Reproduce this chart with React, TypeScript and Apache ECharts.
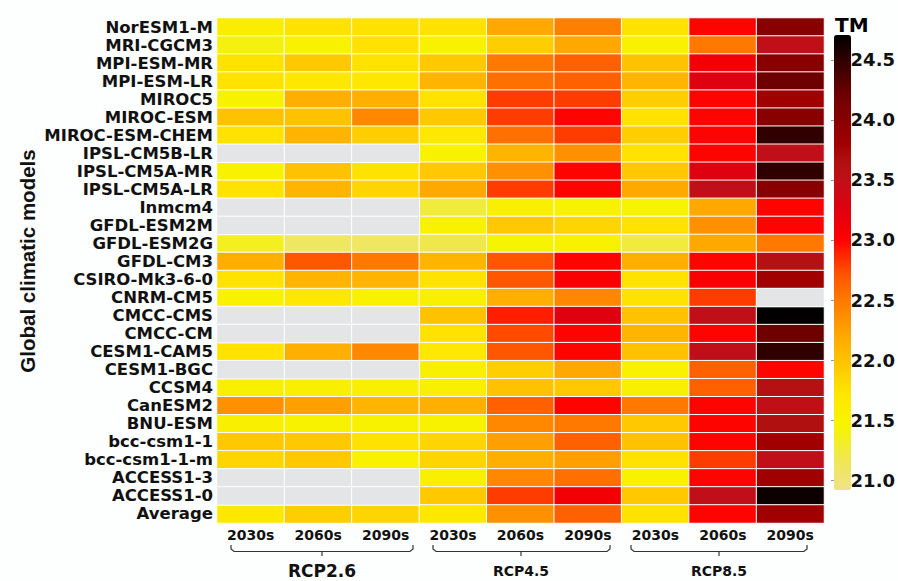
import React, { useEffect, useRef } from "react";
import * as echarts from "echarts";

const models = [
  "NorESM1-M", "MRI-CGCM3", "MPI-ESM-MR", "MPI-ESM-LR", "MIROC5", "MIROC-ESM",
  "MIROC-ESM-CHEM", "IPSL-CM5B-LR", "IPSL-CM5A-MR", "IPSL-CM5A-LR", "Inmcm4",
  "GFDL-ESM2M", "GFDL-ESM2G", "GFDL-CM3", "CSIRO-Mk3-6-0", "CNRM-CM5", "CMCC-CMS",
  "CMCC-CM", "CESM1-CAM5", "CESM1-BGC", "CCSM4", "CanESM2", "BNU-ESM", "bcc-csm1-1",
  "bcc-csm1-1-m", "ACCESS1-3", "ACCESS1-0", "Average",
];

const scenarios = ["RCP2.6", "RCP4.5", "RCP8.5"];
const periods = ["2030s", "2060s", "2090s"];

// values per column, in model order (null = no data)
const rcp26_2030s = [21.6, 21.4, 21.75, 21.75, 21.5, 22.0, 21.75, null, 21.5, 21.75, null, null, 21.35, 22.15, 21.75, 21.5, null, null, 21.75, null, 21.55, 22.35, 21.55, 21.95, 21.85, null, null, 21.7];
const rcp26_2060s = [21.75, 21.5, 21.95, 21.7, 22.15, 22.0, 22.1, null, 22.0, 22.1, null, null, 21.1, 22.7, 22.1, 21.7, null, null, 22.15, null, 21.55, 22.25, 21.5, 21.95, 21.95, null, null, 21.9];
const rcp26_2090s = [21.75, 21.75, 21.75, 21.7, 22.15, 22.4, 21.9, null, 21.75, 21.85, null, null, 21.1, 22.5, 22.1, 21.5, null, null, 22.4, null, 21.55, 22.1, 21.5, 21.75, 21.5, null, null, 21.85];
const rcp45_2030s = [21.75, 21.5, 21.95, 22.1, 21.75, 21.95, 21.7, 21.5, 21.95, 22.2, 21.25, 21.5, 21.2, 22.1, 21.75, 21.55, 22.0, 21.75, 21.7, 21.55, 21.55, 22.15, 21.5, 21.85, 21.85, 21.55, 21.95, 21.7];
const rcp45_2060s = [22.2, 21.9, 22.5, 22.55, 22.8, 22.8, 22.55, 22.1, 22.35, 22.8, 21.55, 21.95, 21.45, 22.7, 22.7, 22.15, 22.9, 22.75, 22.7, 21.9, 22.0, 22.65, 22.4, 22.25, 22.15, 22.4, 22.8, 22.35];
const rcp45_2090s = [22.45, 22.2, 22.65, 22.65, 22.8, 23.0, 22.8, 22.35, 23.0, 23.0, 21.5, 21.85, 21.5, 23.0, 23.05, 22.4, 23.25, 23.0, 23.0, 22.2, 21.95, 23.0, 22.5, 22.65, 22.25, 22.55, 23.1, 22.65];
const rcp85_2030s = [21.75, 21.5, 22.0, 22.1, 21.9, 21.75, 21.9, 21.75, 21.95, 22.2, 21.45, 21.75, 21.25, 22.15, 21.75, 21.75, 22.0, 22.1, 22.0, 21.5, 21.55, 22.5, 21.95, 22.0, 21.75, 21.5, 21.95, 21.75];
const rcp85_2060s = [23.0, 22.5, 23.1, 23.25, 23.0, 23.0, 23.0, 23.0, 23.25, 23.5, 22.2, 22.35, 22.2, 23.0, 23.05, 22.8, 23.5, 23.0, 23.5, 22.65, 22.65, 23.0, 23.0, 23.0, 22.8, 23.0, 23.5, 23.0];
const rcp85_2090s = [24.0, 23.5, 24.0, 24.2, 23.8, 24.0, 24.5, 23.5, 24.5, 24.0, 23.0, 23.0, 22.5, 23.6, 23.8, null, 24.7, 24.2, 24.5, 23.0, 23.6, 23.5, 23.65, 23.8, 23.5, 23.8, 24.65, 23.8];

const columns = [
  rcp26_2030s, rcp26_2060s, rcp26_2090s,
  rcp45_2030s, rcp45_2060s, rcp45_2090s,
  rcp85_2030s, rcp85_2060s, rcp85_2090s,
];

const scaleMin = 20.917;
const scaleMax = 24.708;
const scaleTicks = [21.0, 21.5, 22.0, 22.5, 23.0, 23.5, 24.0, 24.5];

// colour ramp control points (value, colour)
const rampValues = [20.917, 21.2, 21.45, 21.7, 21.95, 22.2, 22.45, 22.7, 22.9, 23.0, 23.25, 23.5, 23.65, 23.8, 24.0, 24.2, 24.5, 24.708];
const rampColors = ["#eee28a", "#f0e84a", "#f6f400", "#ffe800", "#ffc800", "#ffa800", "#ff8000", "#ff5800", "#ff2000", "#ff0000", "#e00010", "#c01018", "#b01010", "#a00000", "#880000", "#700000", "#300000", "#000000"];

function hexToRgb(h: string) {
  const n = parseInt(h.slice(1), 16);
  return [(n >> 16) & 255, (n >> 8) & 255, n & 255];
}
function rampAt(v: number) {
  let i = 0;
  while (i < rampValues.length - 2 && v > rampValues[i + 1]) i++;
  const t = Math.max(0, Math.min(1, (v - rampValues[i]) / (rampValues[i + 1] - rampValues[i])));
  const a = hexToRgb(rampColors[i]);
  const b = hexToRgb(rampColors[i + 1]);
  const c = a.map((x, k) => Math.round(x + (b[k] - x) * t));
  return `rgb(${c[0]},${c[1]},${c[2]})`;
}

const FONT = "'DejaVu Sans', sans-serif";

export default function App() {
  const ref = useRef<HTMLDivElement>(null);

  useEffect(() => {
    if (!ref.current) return;
    const chart = echarts.init(ref.current, null, { renderer: "svg" });

    const xCats: string[] = [];
    scenarios.forEach((s) => periods.forEach((p) => xCats.push(s + "|" + p)));

    const data: any[] = [];
    const missing: any[] = [];
    columns.forEach((col, xi) => {
      col.forEach((v, yi) => {
        if (v === null) missing.push([xi, yi, 0]);
        else data.push([xi, yi, v]);
      });
    });

    const nStops = 80;
    const inRangeColors: string[] = [];
    for (let i = 0; i < nStops; i++) {
      inRangeColors.push(rampAt(scaleMin + ((scaleMax - scaleMin) * i) / (nStops - 1)));
    }

    const brackets = [
      { x0: 231, x1: 413, cx: 322, label: scenarios[0], size: 17 },
      { x0: 433, x1: 610, cx: 521, label: scenarios[1], size: 14 },
      { x0: 631, x1: 807, cx: 719, label: scenarios[2], size: 14 },
    ];
    const graphics: any[] = [];
    brackets.forEach((b) => {
      graphics.push({
        type: "polyline",
        silent: true,
        shape: {
          points: [
            [b.x0, 545], [b.x0, 549], [b.x0 + 3, 551.5], [b.x1 - 3, 551.5], [b.x1, 549], [b.x1, 545],
          ],
        },
        style: { stroke: "#333", lineWidth: 1.2, fill: null },
      });
      graphics.push({
        type: "line",
        silent: true,
        shape: { x1: b.cx, y1: 551.5, x2: b.cx, y2: 556 },
        style: { stroke: "#333", lineWidth: 1.2 },
      });
      graphics.push({
        type: "text",
        silent: true,
        x: b.cx,
        y: 571,
        style: {
          text: b.label,
          fontFamily: FONT,
          fontWeight: "bold",
          fontSize: b.size,
          fill: "#111",
          textAlign: "center",
          textVerticalAlign: "middle",
        },
      });
    });
    graphics.push({
      type: "text",
      silent: true,
      x: 27,
      y: 261,
      rotation: Math.PI / 2,
      style: {
        text: "Global climatic models",
        fontFamily: "'Liberation Sans', Arial, sans-serif",
        fontWeight: "bold",
        fontSize: 20.5,
        fill: "#111",
        textAlign: "center",
        textVerticalAlign: "middle",
      },
    });
    graphics.push({
      type: "text",
      silent: true,
      x: 835,
      y: 25,
      style: {
        text: "TM",
        fontFamily: FONT,
        fontWeight: "bold",
        fontSize: 20,
        fill: "#000",
        textAlign: "left",
        textVerticalAlign: "middle",
      },
    });

    chart.setOption({
      animation: false,
      backgroundColor: "#fdfefe",
      grid: [
        { left: 217, top: 18, right: 74, bottom: 58, containLabel: false },
        { left: 834, top: 35, width: 17, height: 455, show: false },
      ],
      xAxis: [
        {
          type: "category",
          data: xCats,
          gridIndex: 0,
          axisLine: { show: false },
          axisTick: { show: false },
          splitLine: { show: false },
          axisLabel: {
            interval: 0,
            margin: 5,
            formatter: (v: string) => v.split("|")[1],
            fontFamily: FONT,
            fontWeight: "bold",
            fontSize: 14,
            color: "#111",
          },
        },
        { type: "value", gridIndex: 1, show: false, min: 0, max: 1 },
      ],
      yAxis: [
        {
          type: "category",
          data: models,
          inverse: true,
          gridIndex: 0,
          axisLine: { show: false },
          axisTick: { show: false },
          splitLine: { show: false },
          axisLabel: {
            interval: 0,
            margin: 4,
            fontFamily: FONT,
            fontWeight: "bold",
            fontSize: 16.5,
            color: "#111",
          },
        },
        {
          type: "value",
          gridIndex: 1,
          min: scaleMin,
          max: scaleMax,
          position: "right",
          axisLine: { show: false },
          splitLine: { show: false },
          axisTick: {
            show: true,
            inside: true,
            length: 3,
            customValues: scaleTicks,
            lineStyle: { color: "#999", width: 1 },
          },
          axisLabel: {
            customValues: scaleTicks,
            margin: 2,
            formatter: (v: number) => v.toFixed(1),
            fontFamily: FONT,
            fontWeight: "bold",
            fontSize: 18,
            color: "#111",
          },
        },
      ],
      visualMap: [
        {
          type: "continuous",
          seriesIndex: 0,
          min: scaleMin,
          max: scaleMax,
          calculable: false,
          orient: "vertical",
          left: 834,
          top: 35,
          itemWidth: 17,
          itemHeight: 455,
          padding: 0,
          showLabel: false,
          inRange: { color: inRangeColors },
        },
        {
          type: "continuous",
          seriesIndex: 1,
          show: false,
          min: -1,
          max: 1,
          inRange: { color: ["#e4e5e7", "#e4e5e7"] },
        },
      ],
      graphic: graphics,
      series: [
        {
          type: "heatmap",
          xAxisIndex: 0,
          yAxisIndex: 0,
          data,
          itemStyle: { borderColor: "#ffffff", borderWidth: 1 },
          emphasis: { disabled: true },
        },
        {
          type: "heatmap",
          xAxisIndex: 0,
          yAxisIndex: 0,
          data: missing,
          itemStyle: { borderColor: "#ffffff", borderWidth: 1 },
          emphasis: { disabled: true },
        },
      ],
    });

    return () => chart.dispose();
  }, []);

  return (
    <div
      ref={ref}
      style={{ position: "absolute", left: 0, top: 0, width: 898, height: 581 }}
    />
  );
}
